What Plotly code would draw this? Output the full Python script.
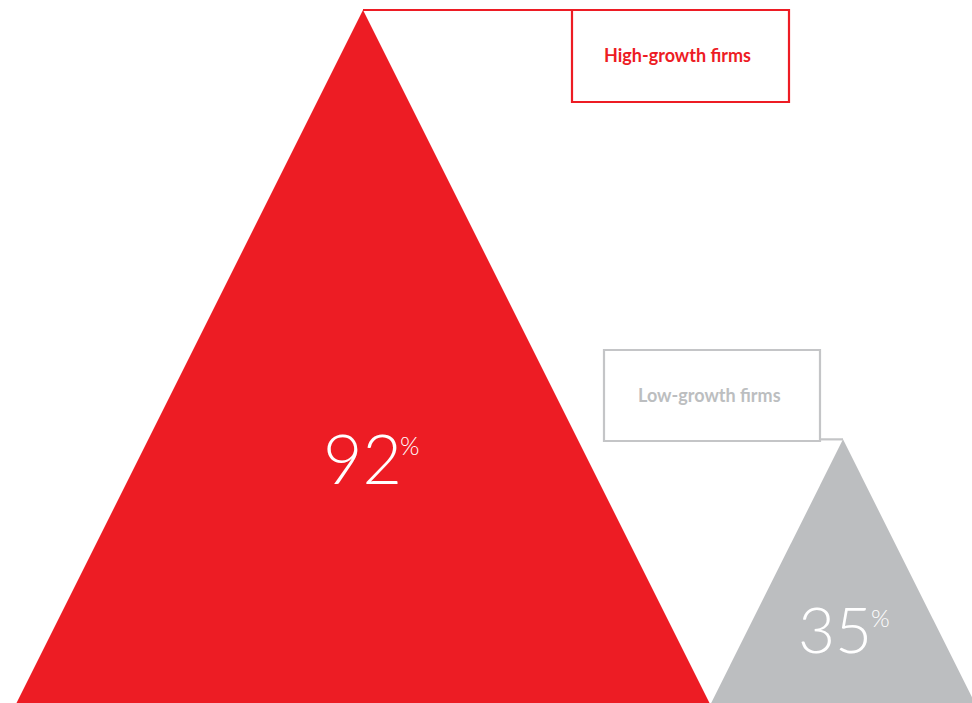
import plotly.graph_objects as go

# Data
categories = ["High-growth firms", "Low-growth firms"]
values = [92, 35]
value_labels = ["92", "35"]

# Styles / layout
colors = ["#ED1C24", "#BCBEC0"]
box_line_colors = ["#ED1C24", "#C4C5C7"]
text_colors = ["#ED1C24", "#BCBEC0"]
centers_px = [363, 843]          # apex x position (px)
W, H = 972, 703
PX_PER_PCT = 693 / 92            # triangle height per percentage point
HALF_BASE_RATIO = 0.5            # half-base / height
boxes = [(572, 789, 10, 102), (604, 820, 350, 441)]  # x0, x1, top, bottom (px from top)

fig = go.Figure()

for cat, v, c, cx in zip(categories, values, colors, centers_px):
    h = v * PX_PER_PCT
    hb = h * HALF_BASE_RATIO
    fig.add_trace(go.Scatter(
        x=[cx - hb, cx, cx + hb, cx - hb],
        y=[0, h, 0, 0],
        mode="lines", fill="toself", fillcolor=c,
        line=dict(width=0, color=c), hoverinfo="skip", showlegend=False, name=cat))

# Boxes and connectors
for i, (cat, v, cx) in enumerate(zip(categories, values, centers_px)):
    x0, x1, top, bot = boxes[i]
    lc = box_line_colors[i]
    fig.add_shape(type="rect", x0=x0, x1=x1, y0=H - bot, y1=H - top,
                  line=dict(color=lc, width=2.2), fillcolor="rgba(0,0,0,0)")
    apex_y = v * PX_PER_PCT
    if i == 0:
        fig.add_shape(type="line", x0=cx, x1=x0, y0=apex_y, y1=apex_y,
                      line=dict(color=lc, width=2.2))
    else:
        fig.add_shape(type="line", x0=x1, x1=cx, y0=apex_y, y1=apex_y,
                      line=dict(color=lc, width=2.2))
    fig.add_annotation(x=(x0 + x1) / 2 - 3, y=H - (top + bot) / 2 + 1, text="<b>" + cat + "</b>",
                       showarrow=False, xanchor="center", yanchor="middle",
                       font=dict(family="Lato", size=18, color=text_colors[i]))

# Percentage labels
num_pos = [(362, 457, 68), (835, 628, 64)]
for lab, (nx, ny, fs) in zip(value_labels, num_pos):
    fig.add_annotation(x=nx, y=H - ny, text=lab, showarrow=False,
                       xanchor="center", yanchor="middle",
                       font=dict(family="Lato", size=fs, color="white", weight=300))
    fig.add_annotation(x=nx + fs * 0.53, y=H - ny + fs * 0.42, text="%", showarrow=False,
                       xanchor="left", yanchor="top",
                       font=dict(family="Lato", size=int(fs * 0.38), color="white", weight=300))

fig.update_layout(
    width=W, height=H,
    margin=dict(l=0, r=0, t=0, b=0),
    paper_bgcolor="white", plot_bgcolor="white",
    xaxis=dict(range=[0, W], visible=False, fixedrange=True),
    yaxis=dict(range=[0, H], visible=False, fixedrange=True),
    showlegend=False,
)

fig.write_html("out.html")
